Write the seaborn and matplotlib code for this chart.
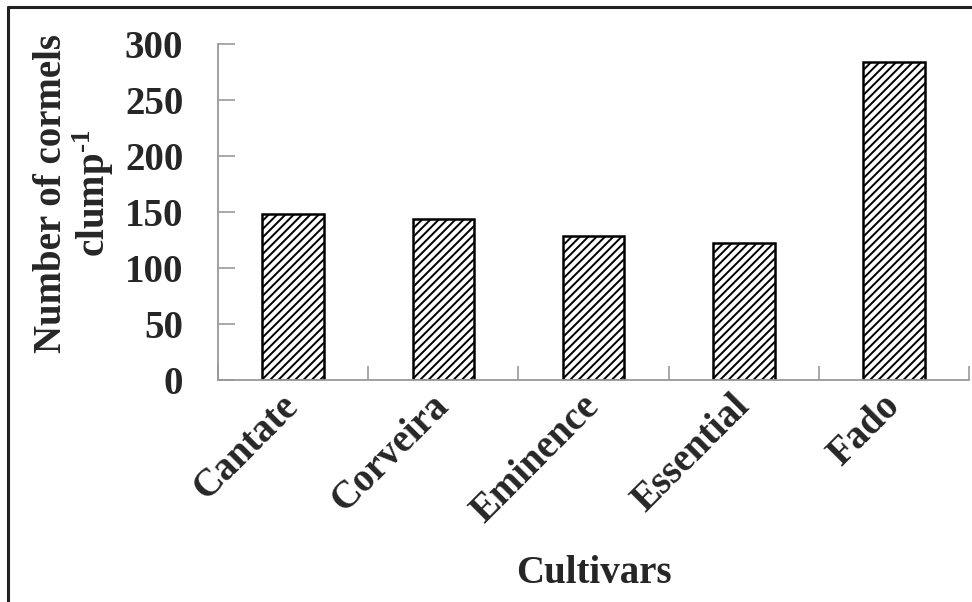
import numpy as np
import pandas as pd
import matplotlib
matplotlib.use("Agg")
import matplotlib.pyplot as plt
import seaborn as sns

cultivars = ["Cantate", "Corveira", "Eminence", "Essential", "Fado"]
cormels = [148, 144, 129, 122, 284]
y_ticks = [0, 50, 100, 150, 200, 250, 300]

df = pd.DataFrame({"cultivar": cultivars, "cormels": cormels})

sns.set_style("white")
plt.rcParams["font.family"] = ["Liberation Serif", "DejaVu Serif"]
plt.rcParams["font.weight"] = "bold"
plt.rcParams["mathtext.fontset"] = "custom"
plt.rcParams["mathtext.rm"] = "Liberation Serif:bold"
plt.rcParams["mathtext.bf"] = "Liberation Serif:bold"
plt.rcParams["hatch.linewidth"] = 1.4

fig = plt.figure(figsize=(9.72, 6.02), dpi=100)
ax = fig.add_axes([0.2243, 0.3688, 0.7727, 0.5581])

sns.barplot(data=df, x="cultivar", y="cormels", color="white", edgecolor="black",
            linewidth=1.8, width=0.41, ax=ax, saturation=1)
for p in ax.patches:
    p.set_hatch("////")

fs = 28
ax.set_xlim(-0.5, 4.5)
ax.set_ylim(0, 300)
ax.set_yticks(y_ticks)
ax.set_yticklabels([str(t) for t in y_ticks], fontsize=fs, fontweight="bold")
ax.set_xticks(range(len(cultivars)))
ax.set_xticklabels(cultivars, fontsize=fs, fontweight="bold", rotation=45,
                   ha="right", va="center", rotation_mode="anchor")
ax.set_xticks(np.arange(-0.5, 5, 1), minor=True)
ax.tick_params(axis="x", which="major", bottom=True, length=0, pad=15)
ax.tick_params(axis="x", which="minor", bottom=True, direction="in", length=10,
               color="#999999", width=1.2)
ax.tick_params(axis="y", left=True, direction="in", length=12, color="#999999",
               width=1.2, pad=25)

for s in ["top", "right"]:
    ax.spines[s].set_visible(False)
for s in ["left", "bottom"]:
    ax.spines[s].set_color("#999999")
    ax.spines[s].set_linewidth(1.3)

ax.set_ylabel("Number of cormels\nclump$^{\\text{-1}}$", fontsize=fs, fontweight="bold",
              linespacing=1.0)
ax.yaxis.set_label_coords(-0.136, 0.555)
ax.set_xlabel("Cultivars", fontsize=fs, fontweight="bold", labelpad=18)

# frame drawn around the figure (top and left edges visible)
fig.add_artist(plt.Line2D([0.008, 1.0], [0.988, 0.988], color="#222222", lw=2.2,
                          transform=fig.transFigure))
fig.add_artist(plt.Line2D([0.008, 0.008], [0.0, 0.988], color="#222222", lw=2.2,
                          transform=fig.transFigure))

fig.savefig("out.png", dpi=100)
